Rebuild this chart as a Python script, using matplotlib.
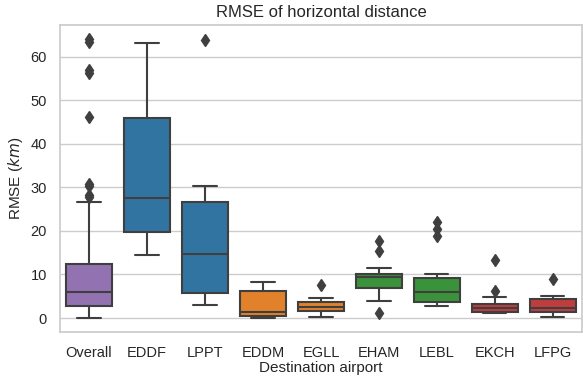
import matplotlib
matplotlib.use("Agg")
import matplotlib.pyplot as plt
import seaborn as sns

# RMSE of horizontal distance (km) per destination airport, as box statistics
airports = ["Overall", "EDDF", "LPPT", "EDDM", "EGLL", "EHAM", "LEBL", "EKCH", "LFPG"]
whislo = [0.0, 14.5, 3.1, 0.1, 0.2, 4.0, 2.8, 1.1, 0.3]
q1 = [2.7, 19.8, 5.7, 0.4, 1.6, 6.8, 3.8, 1.5, 1.5]
med = [6.0, 27.5, 14.8, 1.3, 2.6, 9.5, 6.0, 2.4, 2.4]
q3 = [12.4, 46.0, 26.7, 6.3, 3.6, 10.2, 9.3, 3.2, 4.4]
whishi = [26.7, 63.1, 30.4, 8.3, 4.7, 11.6, 10.1, 4.8, 5.0]
fliers = [
    [27.8, 28.3, 30.2, 30.8, 46.1, 56.3, 57.0, 63.3, 64.0],
    [],
    [63.9],
    [],
    [7.6],
    [17.7, 15.4, 1.2],
    [22.1, 20.4, 18.9],
    [13.3, 6.3],
    [9.0],
]
colors = ["#9372b2", "#3274a1", "#3274a1", "#e1812c", "#e1812c",
          "#3a923a", "#3a923a", "#c03d3e", "#c03d3e"]

sns.set_theme(style="whitegrid")
plt.rcParams["font.family"] = ["Liberation Sans", "DejaVu Sans"]
fig, ax = plt.subplots(figsize=(5.83, 3.76), dpi=100)

stats = []
for i, name in enumerate(airports):
    stats.append(dict(label=name, whislo=whislo[i], q1=q1[i], med=med[i],
                      q3=q3[i], whishi=whishi[i], fliers=fliers[i]))

edge = "#3f3f3f"
bp = ax.bxp(stats, positions=range(len(airports)), widths=0.8,
            patch_artist=True,
            boxprops=dict(edgecolor=edge, linewidth=1.5),
            medianprops=dict(color=edge, linewidth=1.5),
            whiskerprops=dict(color=edge, linewidth=1.5),
            capprops=dict(color=edge, linewidth=1.5),
            flierprops=dict(marker="d", markerfacecolor=edge, markeredgecolor=edge,
                            markersize=6, linestyle="none"))
for box, c in zip(bp["boxes"], colors):
    box.set_facecolor(c)

ax.set_xlim(-0.5, len(airports) - 0.5)
ax.set_ylim(-3.2, 67.2)
ax.set_yticks([0, 10, 20, 30, 40, 50, 60])
ax.xaxis.grid(False)
ax.set_xlabel("Destination airport", fontsize=11, labelpad=1)
ax.set_ylabel("RMSE ($km$)", fontsize=11)
ax.set_title("RMSE of horizontal distance", fontsize=12)
ax.tick_params(labelsize=10.5)
ax.tick_params(axis="x", pad=4)

fig.subplots_adjust(left=0.103, right=0.998, top=0.933, bottom=0.117)
fig.savefig("out.png")
